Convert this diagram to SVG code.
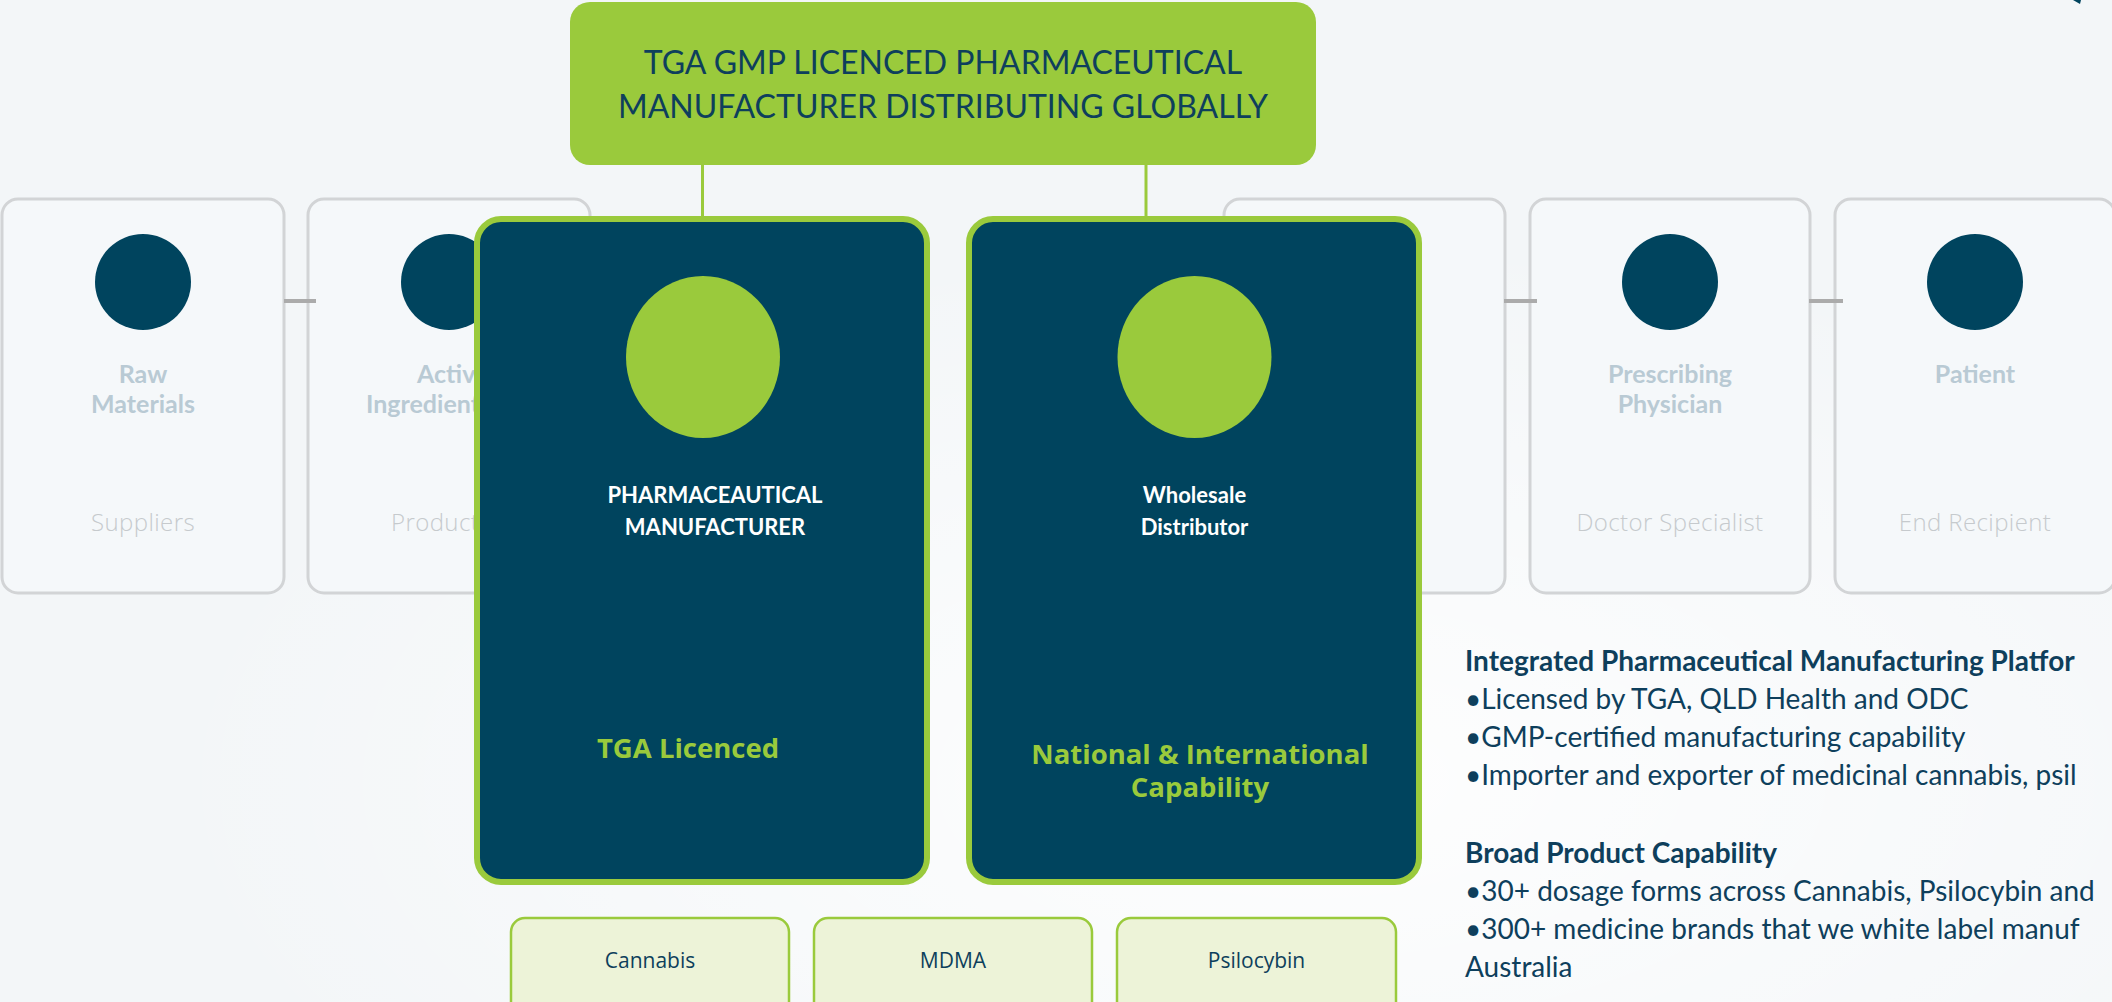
<svg xmlns="http://www.w3.org/2000/svg" width="2112" height="1002" viewBox="0 0 2112 1002">
  <defs>
    <radialGradient id="haze" cx="0.62" cy="0.78" r="0.55">
      <stop offset="0" stop-color="#ffffff" stop-opacity="0.9"/>
      <stop offset="1" stop-color="#ffffff" stop-opacity="0"/>
    </radialGradient>
    <style>
      .bg { fill: #f3f6f8; }
      .step { fill: #f5f8fa; stroke: #d2d4d6; stroke-width: 3; }
      .dot { fill: #00445e; }
      .step-title { font-family: Lato, "Liberation Sans", sans-serif; font-weight: 700; font-size: 25px; fill: #b9cad4; text-anchor: middle; }
      .step-sub { font-family: "Open Sans", "Liberation Sans", sans-serif; font-weight: 300; font-size: 24px; letter-spacing: 0.4px; fill: #c6cacd; text-anchor: middle; }
      .link { stroke: #ababab; stroke-width: 4; }
      .trunk { stroke: #9aca3c; stroke-width: 3; }
      .head { fill: #9aca3c; }
      .head-text { font-family: Lato, "Liberation Sans", sans-serif; font-size: 32px; fill: #0e3f5c; text-anchor: middle; }
      .role { fill: #00445e; stroke: #9aca3c; stroke-width: 6; }
      .role-dot { fill: #9aca3c; }
      .role-title { font-family: Lato, "Liberation Sans", sans-serif; font-weight: 700; font-size: 22px; fill: #ffffff; text-anchor: middle; }
      .role-note { font-family: "Open Sans", "Liberation Sans", sans-serif; font-weight: 700; font-size: 27.5px; fill: #9aca3c; text-anchor: middle; }
      .pill { fill: #edf3d8; stroke: #9aca3c; stroke-width: 2.5; }
      .pill-text { font-family: "Open Sans", "Liberation Sans", sans-serif; font-size: 21px; fill: #0e3f5c; text-anchor: middle; }
      .info { font-family: Lato, "Liberation Sans", sans-serif; font-size: 28px; fill: #0e3f5c; }
      .info-h { font-weight: 700; }
    </style>
  </defs>

  <!-- backdrop -->
  <rect class="bg" x="0" y="0" width="2112" height="1002"/>
  <rect x="0" y="0" width="2112" height="1002" fill="url(#haze)"/>
  <path d="M2073,0 L2081,0 L2080,4 Z" fill="#00445e"/>

  <!-- supply chain steps (behind) -->
  <g id="step-raw-materials">
    <rect class="step" x="2" y="199" width="282" height="394" rx="16"/>
    <circle class="dot" cx="143" cy="282" r="48"/>
    <text class="step-title" x="143" y="383">Raw</text>
    <text class="step-title" x="143" y="413">Materials</text>
    <text class="step-sub" x="143" y="531">Suppliers</text>
  </g>
  <g id="step-active-ingredients">
    <rect class="step" x="308" y="199" width="282" height="394" rx="16"/>
    <circle class="dot" cx="449" cy="282" r="48"/>
    <text class="step-title" x="417" y="383" style="text-anchor:start">Active</text>
    <text class="step-title" x="366" y="413" style="text-anchor:start">Ingredients</text>
    <text class="step-sub" x="391" y="531" style="text-anchor:start">Products</text>
  </g>
  <g id="step-wholesale">
    <rect class="step" x="1224" y="199" width="281" height="394" rx="16"/>
  </g>
  <g id="step-prescribing-physician">
    <rect class="step" x="1530" y="199" width="280" height="394" rx="16"/>
    <circle class="dot" cx="1670" cy="282" r="48"/>
    <text class="step-title" x="1670" y="383">Prescribing</text>
    <text class="step-title" x="1670" y="413">Physician</text>
    <text class="step-sub" x="1670" y="531">Doctor Specialist</text>
  </g>
  <g id="step-patient">
    <rect class="step" x="1835" y="199" width="280" height="394" rx="16"/>
    <circle class="dot" cx="1975" cy="282" r="48"/>
    <text class="step-title" x="1975" y="383">Patient</text>
    <text class="step-sub" x="1975" y="531">End Recipient</text>
  </g>

  <!-- connectors -->
  <g id="connectors">
    <line class="link" x1="284" y1="301" x2="316" y2="301"/>
    <line class="link" x1="1504" y1="301" x2="1537" y2="301"/>
    <line class="link" x1="1809" y1="301" x2="1843" y2="301"/>
    <line class="trunk" x1="702.5" y1="164" x2="702.5" y2="219"/>
    <line class="trunk" x1="1146" y1="164" x2="1146" y2="219"/>
  </g>

  <!-- headline -->
  <g id="headline">
    <rect class="head" x="570" y="2" width="746" height="163" rx="20"/>
    <text class="head-text" x="943" y="74">TGA GMP LICENCED PHARMACEUTICAL</text>
    <text class="head-text" x="943" y="118">MANUFACTURER DISTRIBUTING GLOBALLY</text>
  </g>

  <!-- highlighted roles -->
  <g id="role-manufacturer">
    <rect class="role" x="477" y="219" width="450" height="663" rx="24"/>
    <ellipse class="role-dot" cx="703" cy="357" rx="77" ry="81"/>
    <text class="role-title" x="715" y="503">PHARMACEAUTICAL</text>
    <text class="role-title" x="715" y="535">MANUFACTURER</text>
    <text class="role-note" x="688" y="758">TGA Licenced</text>
  </g>
  <g id="role-distributor">
    <rect class="role" x="969" y="219" width="450" height="663" rx="24"/>
    <ellipse class="role-dot" cx="1194.5" cy="357" rx="77" ry="81"/>
    <text class="role-title" x="1194.5" y="503">Wholesale</text>
    <text class="role-title" x="1194.5" y="535">Distributor</text>
    <text class="role-note" x="1200" y="764">National &amp; International</text>
    <text class="role-note" x="1200" y="797">Capability</text>
  </g>

  <!-- product lines -->
  <g id="product-cannabis">
    <rect class="pill" x="511" y="918" width="278" height="110" rx="14"/>
    <text class="pill-text" x="650" y="968">Cannabis</text>
  </g>
  <g id="product-mdma">
    <rect class="pill" x="814" y="918" width="278" height="110" rx="14"/>
    <text class="pill-text" x="953" y="968">MDMA</text>
  </g>
  <g id="product-psilocybin">
    <rect class="pill" x="1117" y="918" width="279" height="110" rx="14"/>
    <text class="pill-text" x="1256.5" y="968">Psilocybin</text>
  </g>

  <!-- capability notes -->
  <g id="capability-notes">
    <text class="info info-h" x="1465" y="671">Integrated Pharmaceutical Manufacturing Platfor</text>
    <text class="info" x="1465" y="709">•Licensed by TGA, QLD Health and ODC</text>
    <text class="info" x="1465" y="747">•GMP-certified manufacturing capability</text>
    <text class="info" x="1465" y="785">•Importer and exporter of medicinal cannabis, psil</text>
    <text class="info info-h" x="1465" y="863">Broad Product Capability</text>
    <text class="info" x="1465" y="901">•30+ dosage forms across Cannabis, Psilocybin and</text>
    <text class="info" x="1465" y="939">•300+ medicine brands that we white label manuf</text>
    <text class="info" x="1465" y="977">Australia</text>
  </g>
</svg>
